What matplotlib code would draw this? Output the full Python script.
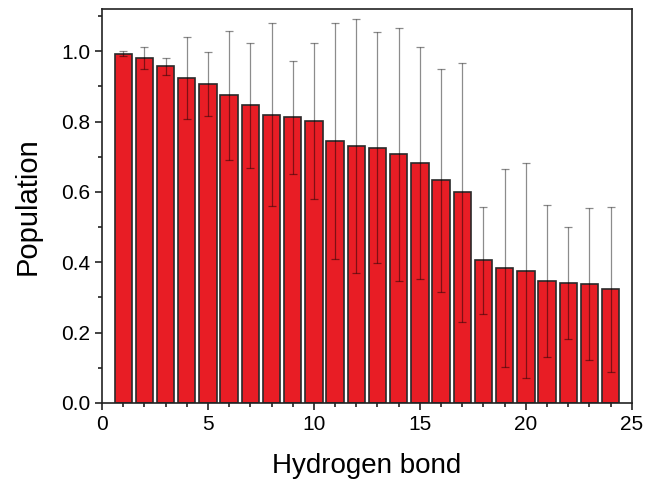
import matplotlib
matplotlib.use("Agg")
from matplotlib import pyplot as plt
from matplotlib.ticker import MultipleLocator
import numpy as np

plt.rcParams['font.family'] = ['Liberation Sans', 'DejaVu Sans']

# hydrogen bond index, population and standard deviation
hbond = np.arange(1, 25)
population = [0.993, 0.980, 0.957, 0.923, 0.908, 0.875, 0.846, 0.820,
              0.812, 0.801, 0.744, 0.731, 0.726, 0.707, 0.683, 0.633,
              0.599, 0.406, 0.384, 0.376, 0.347, 0.342, 0.339, 0.323]
err = [0.008, 0.031, 0.025, 0.117, 0.091, 0.183, 0.177, 0.260,
       0.161, 0.222, 0.336, 0.362, 0.329, 0.359, 0.330, 0.317,
       0.368, 0.152, 0.281, 0.305, 0.215, 0.159, 0.216, 0.234]

fig = plt.figure(figsize=(6.54, 4.87), dpi=100)
ax = fig.add_axes([0.156, 0.1725, 0.81, 0.809])

ax.bar(hbond, population, width=0.82, color='#e81d25',
       edgecolor='#2a2a2a', linewidth=1.2, zorder=2)
ax.errorbar(hbond, population, yerr=err, fmt='none', ecolor='black',
            alpha=0.45, elinewidth=0.9, capsize=2.6, capthick=0.9, zorder=3)

ax.set_xlim(0, 25)
ax.set_ylim(0, 1.12)
ax.xaxis.set_major_locator(MultipleLocator(5))
ax.xaxis.set_minor_locator(MultipleLocator(1))
ax.yaxis.set_major_locator(MultipleLocator(0.2))
ax.yaxis.set_minor_locator(MultipleLocator(0.1))
ax.yaxis.set_major_formatter(matplotlib.ticker.FormatStrFormatter('%.1f'))

ax.tick_params(which='both', direction='out', top=False, right=False,
               width=1.2, labelsize=15, color='#222222')
ax.tick_params(which='major', length=5)
ax.tick_params(which='minor', length=3)
for s in ax.spines.values():
    s.set_linewidth(1.2)
    s.set_color('#222222')

ax.set_xlabel('Hydrogen bond', fontsize=20, labelpad=14)
ax.set_ylabel('Population', fontsize=21, labelpad=14)

plt.savefig('out.png', dpi=100)
